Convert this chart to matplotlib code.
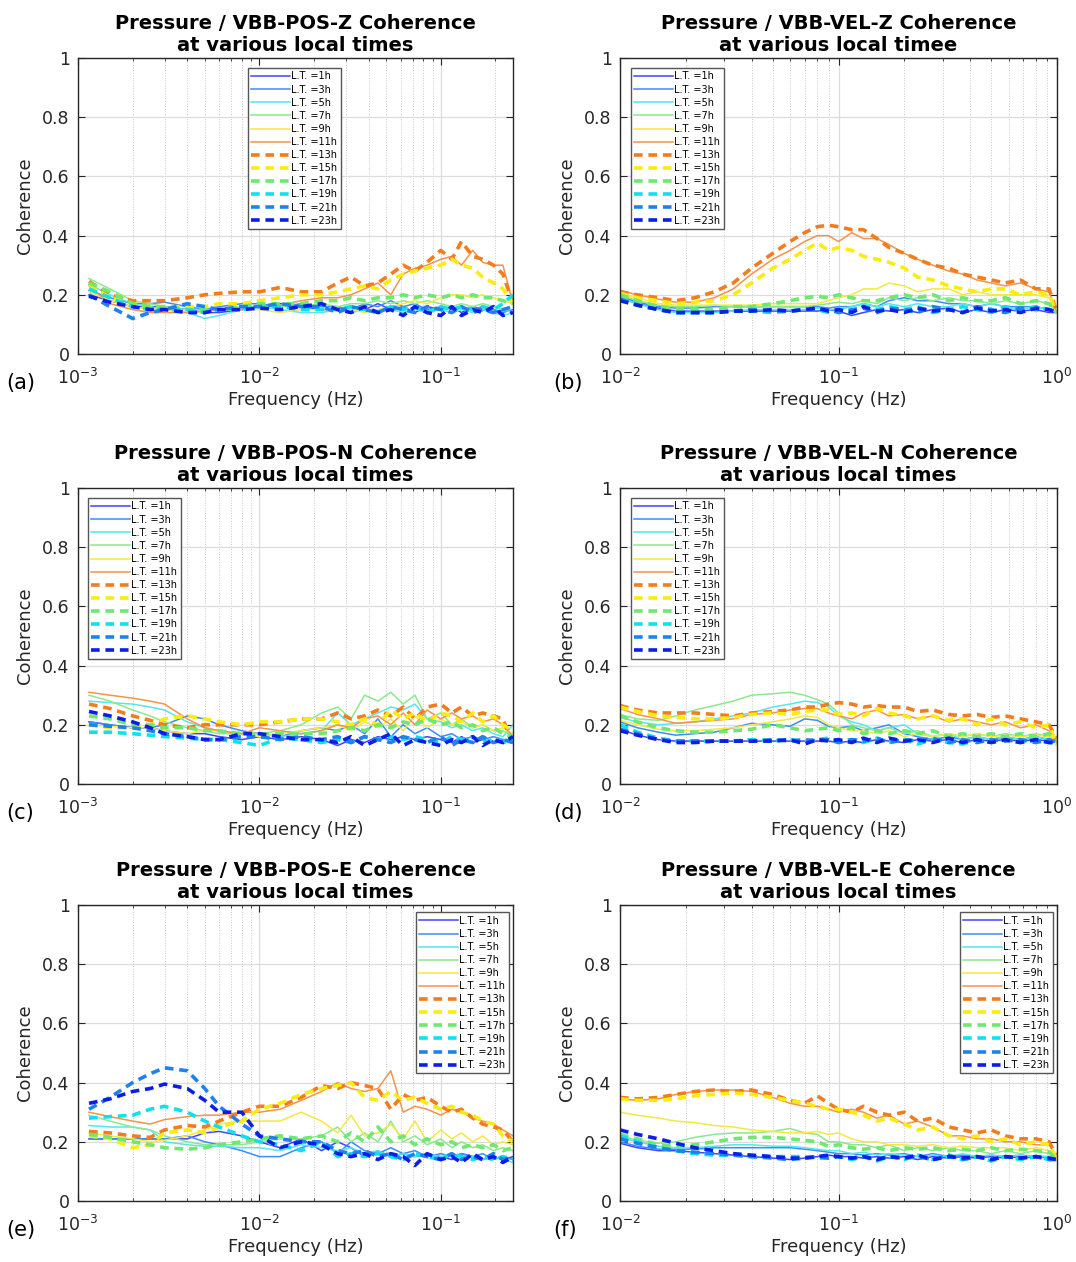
import matplotlib
matplotlib.use("Agg")
import matplotlib.pyplot as plt
from matplotlib.ticker import LogLocator, NullFormatter, FixedLocator

plt.rcParams['font.family'] = ['DejaVu Sans']

# ---- data ------------------------------------------------------------------
LABELS = ["L.T. =1h", "L.T. =3h", "L.T. =5h", "L.T. =7h", "L.T. =9h", "L.T. =11h",
          "L.T. =13h", "L.T. =15h", "L.T. =17h", "L.T. =19h", "L.T. =21h", "L.T. =23h"]

F_POS = [0.00115, 0.0015, 0.002, 0.0025, 0.003, 0.004, 0.005, 0.006, 0.008, 0.01,
         0.013, 0.017, 0.022, 0.027, 0.032, 0.038, 0.045, 0.053, 0.062, 0.072,
         0.084, 0.1, 0.115, 0.13, 0.15, 0.17, 0.195, 0.22, 0.25]
F_VEL = [0.01, 0.012, 0.015, 0.018, 0.022, 0.027, 0.033, 0.04, 0.05, 0.06,
         0.07, 0.08, 0.09, 0.1, 0.115, 0.13, 0.15, 0.17, 0.2, 0.23,
         0.27, 0.32, 0.37, 0.43, 0.5, 0.58, 0.68, 0.8, 0.92, 1.0]

# (a) Pressure / VBB-POS-Z
coh_pos_z = [
    [0.2, 0.18, 0.16, 0.16, 0.16, 0.15, 0.14, 0.14, 0.15, 0.16, 0.17, 0.16, 0.15, 0.15, 0.16, 0.15, 0.17, 0.15, 0.16, 0.14, 0.16, 0.15, 0.16, 0.14, 0.16, 0.15, 0.14, 0.15, 0.14],
    [0.215, 0.19, 0.17, 0.17, 0.175, 0.16, 0.15, 0.16, 0.17, 0.17, 0.16, 0.17, 0.16, 0.16, 0.15, 0.17, 0.16, 0.18, 0.16, 0.17, 0.15, 0.16, 0.15, 0.16, 0.15, 0.16, 0.15, 0.14, 0.15],
    [0.235, 0.2, 0.17, 0.16, 0.15, 0.14, 0.12, 0.13, 0.15, 0.16, 0.15, 0.14, 0.14, 0.15, 0.14, 0.15, 0.14, 0.15, 0.14, 0.15, 0.14, 0.15, 0.14, 0.15, 0.14, 0.15, 0.14, 0.13, 0.14],
    [0.255, 0.22, 0.18, 0.17, 0.16, 0.15, 0.15, 0.15, 0.16, 0.16, 0.16, 0.16, 0.17, 0.16, 0.17, 0.17, 0.18, 0.17, 0.18, 0.17, 0.18, 0.17, 0.16, 0.17, 0.16, 0.17, 0.16, 0.15, 0.14],
    [0.21, 0.18, 0.16, 0.15, 0.15, 0.14, 0.14, 0.15, 0.15, 0.15, 0.14, 0.15, 0.15, 0.15, 0.15, 0.14, 0.15, 0.16, 0.17, 0.18, 0.17, 0.19, 0.2, 0.2, 0.19, 0.2, 0.19, 0.18, 0.17],
    [0.23, 0.17, 0.15, 0.14, 0.14, 0.14, 0.145, 0.15, 0.15, 0.16, 0.165, 0.18, 0.19, 0.19, 0.2, 0.22, 0.24, 0.2, 0.27, 0.29, 0.3, 0.32, 0.33, 0.3, 0.35, 0.31, 0.3, 0.3, 0.17],
    [0.245, 0.2, 0.18, 0.18, 0.18, 0.19, 0.2, 0.205, 0.21, 0.21, 0.225, 0.21, 0.21, 0.24, 0.26, 0.23, 0.24, 0.27, 0.3, 0.28, 0.31, 0.35, 0.32, 0.38, 0.33, 0.32, 0.3, 0.27, 0.17],
    [0.235, 0.19, 0.17, 0.16, 0.16, 0.16, 0.16, 0.17, 0.17, 0.18, 0.19, 0.2, 0.2, 0.21, 0.22, 0.23, 0.22, 0.25, 0.27, 0.28, 0.29, 0.3, 0.32, 0.3, 0.29, 0.26, 0.24, 0.22, 0.17],
    [0.24, 0.21, 0.17, 0.16, 0.16, 0.15, 0.15, 0.15, 0.16, 0.17, 0.17, 0.17, 0.18, 0.18, 0.19, 0.18, 0.19, 0.19, 0.2, 0.19, 0.2, 0.19, 0.2, 0.19, 0.2, 0.19, 0.19, 0.18, 0.17],
    [0.22, 0.19, 0.16, 0.15, 0.15, 0.15, 0.14, 0.15, 0.15, 0.16, 0.16, 0.15, 0.15, 0.15, 0.16, 0.15, 0.14, 0.16, 0.15, 0.16, 0.14, 0.16, 0.15, 0.16, 0.15, 0.16, 0.15, 0.17, 0.2],
    [0.2, 0.16, 0.12, 0.14, 0.15, 0.17, 0.16, 0.15, 0.16, 0.16, 0.17, 0.16, 0.16, 0.14, 0.16, 0.15, 0.14, 0.16, 0.15, 0.14, 0.16, 0.15, 0.14, 0.16, 0.14, 0.15, 0.14, 0.15, 0.16],
    [0.195, 0.175, 0.16, 0.15, 0.15, 0.14, 0.14, 0.15, 0.15, 0.155, 0.15, 0.16, 0.17, 0.15, 0.14, 0.16, 0.14, 0.15, 0.13, 0.16, 0.14, 0.13, 0.16, 0.13, 0.15, 0.14, 0.16, 0.13, 0.14],
]

# (b) Pressure / VBB-VEL-Z
coh_vel_z = [
    [0.19, 0.17, 0.155, 0.145, 0.145, 0.145, 0.145, 0.145, 0.145, 0.145, 0.145, 0.145, 0.15, 0.145, 0.13, 0.14, 0.15, 0.145, 0.15, 0.14, 0.15, 0.155, 0.14, 0.15, 0.14, 0.15, 0.145, 0.15, 0.14, 0.14],
    [0.195, 0.175, 0.16, 0.155, 0.155, 0.16, 0.16, 0.16, 0.16, 0.16, 0.16, 0.16, 0.155, 0.16, 0.16, 0.17, 0.16, 0.18, 0.19, 0.18, 0.18, 0.17, 0.17, 0.16, 0.17, 0.16, 0.16, 0.16, 0.15, 0.14],
    [0.19, 0.17, 0.15, 0.14, 0.14, 0.14, 0.145, 0.15, 0.15, 0.15, 0.15, 0.155, 0.15, 0.15, 0.16, 0.17, 0.16, 0.17, 0.16, 0.17, 0.16, 0.16, 0.17, 0.16, 0.17, 0.16, 0.15, 0.16, 0.15, 0.14],
    [0.2, 0.18, 0.165, 0.16, 0.16, 0.165, 0.16, 0.16, 0.16, 0.16, 0.16, 0.165, 0.17, 0.175, 0.17, 0.18, 0.17, 0.19, 0.18, 0.19, 0.18, 0.19, 0.18, 0.18, 0.17, 0.18, 0.17, 0.18, 0.17, 0.14],
    [0.2, 0.19, 0.17, 0.165, 0.165, 0.165, 0.165, 0.165, 0.17, 0.17, 0.17, 0.17, 0.18, 0.19, 0.2, 0.22, 0.22, 0.24, 0.23, 0.21, 0.22, 0.22, 0.2, 0.21, 0.2, 0.2, 0.2, 0.2, 0.19, 0.14],
    [0.215, 0.2, 0.185, 0.175, 0.175, 0.19, 0.22, 0.27, 0.32, 0.35, 0.38, 0.4, 0.4, 0.38, 0.41, 0.39, 0.39, 0.37, 0.34, 0.32, 0.3, 0.28, 0.27, 0.25, 0.24, 0.23, 0.24, 0.22, 0.21, 0.14],
    [0.21, 0.2, 0.19, 0.18, 0.19, 0.21, 0.24, 0.29, 0.34, 0.38, 0.41, 0.43, 0.435, 0.43, 0.42, 0.42, 0.39, 0.36, 0.34, 0.32, 0.3, 0.29, 0.27, 0.26, 0.25, 0.24, 0.25, 0.22, 0.22, 0.14],
    [0.205, 0.19, 0.18, 0.17, 0.175, 0.18, 0.2, 0.24, 0.29, 0.32, 0.35, 0.375, 0.35, 0.36, 0.35, 0.33, 0.32, 0.31, 0.29, 0.26, 0.25, 0.23, 0.22, 0.21, 0.22, 0.22, 0.2, 0.21, 0.2, 0.14],
    [0.2, 0.18, 0.16, 0.15, 0.15, 0.15, 0.16, 0.16, 0.17, 0.18, 0.19, 0.195, 0.19, 0.2, 0.19, 0.18, 0.18, 0.19, 0.2, 0.19, 0.2, 0.18, 0.19, 0.18, 0.18, 0.19, 0.17, 0.18, 0.17, 0.14],
    [0.185, 0.165, 0.15, 0.14, 0.14, 0.14, 0.145, 0.145, 0.14, 0.145, 0.15, 0.15, 0.14, 0.15, 0.14, 0.16, 0.15, 0.16, 0.15, 0.16, 0.14, 0.15, 0.16, 0.15, 0.14, 0.16, 0.15, 0.16, 0.15, 0.14],
    [0.185, 0.165, 0.15, 0.14, 0.14, 0.14, 0.145, 0.15, 0.145, 0.145, 0.15, 0.15, 0.15, 0.14, 0.15, 0.155, 0.14, 0.155, 0.15, 0.14, 0.16, 0.15, 0.14, 0.16, 0.15, 0.14, 0.155, 0.15, 0.15, 0.14],
    [0.18, 0.165, 0.15, 0.14, 0.14, 0.14, 0.145, 0.145, 0.15, 0.145, 0.15, 0.155, 0.145, 0.15, 0.14, 0.16, 0.145, 0.15, 0.14, 0.155, 0.145, 0.15, 0.14, 0.155, 0.145, 0.15, 0.14, 0.155, 0.15, 0.14],
]

# (c) Pressure / VBB-POS-N
coh_pos_n = [
    [0.21, 0.2, 0.19, 0.19, 0.18, 0.17, 0.17, 0.16, 0.15, 0.16, 0.15, 0.16, 0.15, 0.13, 0.15, 0.14, 0.16, 0.15, 0.16, 0.15, 0.16, 0.15, 0.14, 0.16, 0.14, 0.15, 0.14, 0.15, 0.14],
    [0.21, 0.2, 0.19, 0.19, 0.2, 0.23, 0.22, 0.2, 0.18, 0.17, 0.16, 0.18, 0.19, 0.18, 0.2, 0.17, 0.22, 0.16, 0.2, 0.17, 0.19, 0.16, 0.17, 0.15, 0.16, 0.15, 0.16, 0.15, 0.15],
    [0.28, 0.275, 0.27, 0.26, 0.25, 0.21, 0.19, 0.18, 0.17, 0.17, 0.16, 0.17, 0.18, 0.24, 0.2, 0.22, 0.24, 0.26, 0.25, 0.27, 0.22, 0.21, 0.19, 0.2, 0.18, 0.19, 0.17, 0.16, 0.2],
    [0.3, 0.28, 0.25, 0.23, 0.21, 0.19, 0.18, 0.17, 0.17, 0.17, 0.18, 0.2, 0.24, 0.26, 0.22, 0.3, 0.28, 0.31, 0.27, 0.3, 0.22, 0.24, 0.2, 0.22, 0.19, 0.2, 0.18, 0.18, 0.16],
    [0.2, 0.195, 0.19, 0.19, 0.18, 0.17, 0.18, 0.18, 0.17, 0.16, 0.17, 0.18, 0.19, 0.2, 0.18, 0.21, 0.19, 0.22, 0.18, 0.23, 0.19, 0.22, 0.2, 0.21, 0.19, 0.2, 0.18, 0.19, 0.17],
    [0.31, 0.3, 0.29, 0.28, 0.27, 0.22, 0.19, 0.18, 0.17, 0.19, 0.18, 0.17, 0.18, 0.2, 0.19, 0.22, 0.23, 0.2, 0.24, 0.2, 0.25, 0.22, 0.24, 0.22, 0.23, 0.21, 0.22, 0.2, 0.16],
    [0.27, 0.255, 0.23, 0.215, 0.2, 0.19, 0.2, 0.2, 0.2, 0.2, 0.21, 0.22, 0.22, 0.24, 0.22, 0.23, 0.25, 0.23, 0.26, 0.22, 0.26, 0.27, 0.24, 0.26, 0.23, 0.24, 0.23, 0.22, 0.13],
    [0.2, 0.19, 0.19, 0.2, 0.22, 0.23, 0.22, 0.21, 0.2, 0.21, 0.21, 0.22, 0.22, 0.21, 0.2, 0.22, 0.2, 0.25, 0.22, 0.24, 0.21, 0.24, 0.23, 0.21, 0.24, 0.21, 0.23, 0.2, 0.18],
    [0.23, 0.22, 0.2, 0.2, 0.19, 0.19, 0.18, 0.18, 0.17, 0.17, 0.17, 0.17, 0.17, 0.18, 0.19, 0.18, 0.2, 0.19, 0.21, 0.2, 0.22, 0.2, 0.21, 0.19, 0.2, 0.18, 0.19, 0.17, 0.16],
    [0.175, 0.175, 0.17, 0.165, 0.16, 0.155, 0.15, 0.15, 0.14, 0.13, 0.155, 0.15, 0.14, 0.15, 0.14, 0.16, 0.15, 0.16, 0.15, 0.16, 0.15, 0.14, 0.16, 0.15, 0.16, 0.14, 0.15, 0.14, 0.15],
    [0.2, 0.195, 0.19, 0.18, 0.17, 0.16, 0.15, 0.15, 0.16, 0.16, 0.15, 0.16, 0.15, 0.16, 0.14, 0.16, 0.15, 0.14, 0.16, 0.15, 0.14, 0.16, 0.13, 0.15, 0.14, 0.16, 0.14, 0.15, 0.14],
    [0.245, 0.23, 0.21, 0.19, 0.17, 0.16, 0.15, 0.15, 0.17, 0.17, 0.16, 0.15, 0.15, 0.14, 0.16, 0.13, 0.15, 0.17, 0.13, 0.15, 0.14, 0.13, 0.15, 0.14, 0.16, 0.13, 0.15, 0.14, 0.16],
]

# (d) Pressure / VBB-VEL-N
coh_vel_n = [
    [0.185, 0.165, 0.15, 0.145, 0.145, 0.145, 0.145, 0.145, 0.145, 0.145, 0.145, 0.145, 0.145, 0.14, 0.145, 0.14, 0.15, 0.145, 0.14, 0.15, 0.145, 0.15, 0.14, 0.15, 0.145, 0.15, 0.145, 0.15, 0.145, 0.14],
    [0.21, 0.19, 0.175, 0.165, 0.17, 0.175, 0.19, 0.205, 0.2, 0.195, 0.22, 0.215, 0.195, 0.19, 0.195, 0.18, 0.19, 0.2, 0.17, 0.16, 0.15, 0.16, 0.15, 0.16, 0.15, 0.16, 0.15, 0.16, 0.15, 0.14],
    [0.225, 0.21, 0.2, 0.205, 0.21, 0.22, 0.23, 0.24, 0.26, 0.27, 0.28, 0.275, 0.26, 0.23, 0.21, 0.2, 0.18, 0.19, 0.2, 0.17, 0.16, 0.17, 0.15, 0.16, 0.15, 0.16, 0.15, 0.16, 0.15, 0.14],
    [0.235, 0.22, 0.215, 0.23, 0.25, 0.265, 0.28, 0.3, 0.305, 0.31, 0.3, 0.285, 0.27, 0.24, 0.2, 0.19, 0.18, 0.19, 0.17, 0.18, 0.16, 0.17, 0.16, 0.17, 0.16, 0.17, 0.16, 0.17, 0.16, 0.15],
    [0.215, 0.2, 0.185, 0.18, 0.18, 0.185, 0.19, 0.2, 0.21, 0.22, 0.23, 0.225, 0.2, 0.19, 0.18, 0.18, 0.17, 0.18, 0.16, 0.17, 0.16, 0.17, 0.16, 0.17, 0.16, 0.165, 0.16, 0.165, 0.16, 0.14],
    [0.255, 0.235, 0.22, 0.205, 0.21, 0.215, 0.22, 0.235, 0.24, 0.25, 0.255, 0.255, 0.24, 0.23, 0.22, 0.24, 0.25, 0.23, 0.235, 0.22, 0.23, 0.21, 0.22, 0.21, 0.2, 0.21, 0.19, 0.2, 0.18, 0.14],
    [0.265, 0.25, 0.24, 0.24, 0.24, 0.235, 0.23, 0.24, 0.245, 0.25, 0.26, 0.26, 0.27, 0.275, 0.27, 0.26, 0.265, 0.26, 0.26, 0.245, 0.25, 0.235, 0.23, 0.235, 0.225, 0.23, 0.22, 0.21, 0.2, 0.15],
    [0.26, 0.245, 0.23, 0.225, 0.22, 0.22, 0.225, 0.235, 0.24, 0.235, 0.245, 0.25, 0.25, 0.235, 0.24, 0.23, 0.255, 0.24, 0.23, 0.22, 0.23, 0.215, 0.22, 0.2, 0.22, 0.2, 0.21, 0.19, 0.2, 0.13],
    [0.23, 0.21, 0.19, 0.18, 0.175, 0.175, 0.18, 0.185, 0.2, 0.19, 0.18, 0.185, 0.19, 0.18, 0.19, 0.17, 0.18, 0.17, 0.18, 0.17, 0.18, 0.16, 0.17, 0.16, 0.17, 0.16, 0.17, 0.16, 0.17, 0.15],
    [0.2, 0.175, 0.155, 0.145, 0.145, 0.145, 0.145, 0.15, 0.145, 0.15, 0.145, 0.15, 0.155, 0.145, 0.15, 0.14, 0.155, 0.14, 0.15, 0.135, 0.15, 0.14, 0.135, 0.15, 0.14, 0.15, 0.14, 0.15, 0.14, 0.14],
    [0.185, 0.17, 0.15, 0.145, 0.145, 0.145, 0.145, 0.145, 0.15, 0.145, 0.15, 0.145, 0.15, 0.14, 0.15, 0.145, 0.155, 0.14, 0.15, 0.145, 0.155, 0.14, 0.15, 0.14, 0.15, 0.145, 0.15, 0.14, 0.15, 0.14],
    [0.18, 0.165, 0.15, 0.14, 0.14, 0.145, 0.145, 0.145, 0.145, 0.15, 0.135, 0.15, 0.145, 0.15, 0.14, 0.155, 0.14, 0.155, 0.145, 0.15, 0.14, 0.155, 0.14, 0.15, 0.14, 0.15, 0.14, 0.15, 0.14, 0.14],
]

# (e) Pressure / VBB-POS-E
coh_pos_e = [
    [0.21, 0.21, 0.21, 0.21, 0.21, 0.21, 0.23, 0.235, 0.22, 0.2, 0.18, 0.21, 0.17, 0.2, 0.18, 0.15, 0.17, 0.15, 0.16, 0.15, 0.16, 0.15, 0.14, 0.16, 0.15, 0.14, 0.15, 0.14, 0.15],
    [0.21, 0.21, 0.21, 0.21, 0.21, 0.22, 0.2, 0.19, 0.17, 0.15, 0.15, 0.18, 0.2, 0.16, 0.2, 0.17, 0.16, 0.18, 0.16, 0.17, 0.15, 0.16, 0.15, 0.16, 0.15, 0.16, 0.14, 0.15, 0.14],
    [0.255, 0.25, 0.25, 0.24, 0.2, 0.19, 0.185, 0.185, 0.18, 0.18, 0.17, 0.19, 0.18, 0.17, 0.18, 0.16, 0.17, 0.15, 0.16, 0.15, 0.16, 0.15, 0.16, 0.14, 0.15, 0.14, 0.15, 0.14, 0.13],
    [0.29, 0.27, 0.25, 0.24, 0.22, 0.2, 0.19, 0.19, 0.19, 0.2, 0.21, 0.21, 0.22, 0.25, 0.2, 0.23, 0.2, 0.27, 0.2, 0.22, 0.19, 0.21, 0.18, 0.2, 0.18, 0.19, 0.17, 0.18, 0.17],
    [0.23, 0.22, 0.21, 0.2, 0.205, 0.22, 0.24, 0.26, 0.27, 0.27, 0.27, 0.3, 0.27, 0.23, 0.29, 0.22, 0.23, 0.26, 0.21, 0.27, 0.2, 0.24, 0.21, 0.23, 0.2, 0.22, 0.19, 0.2, 0.19],
    [0.3, 0.285, 0.27, 0.26, 0.275, 0.285, 0.29, 0.29, 0.3, 0.3, 0.31, 0.34, 0.37, 0.4, 0.38, 0.37, 0.38, 0.44, 0.3, 0.32, 0.31, 0.29, 0.31, 0.3, 0.28, 0.27, 0.26, 0.24, 0.22],
    [0.235, 0.23, 0.22, 0.215, 0.24, 0.255, 0.25, 0.27, 0.3, 0.32, 0.32, 0.35, 0.39, 0.38, 0.4, 0.39, 0.38, 0.31, 0.36, 0.34, 0.35, 0.32, 0.3, 0.31, 0.28, 0.26, 0.25, 0.24, 0.2],
    [0.22, 0.21, 0.18, 0.19, 0.23, 0.24, 0.23, 0.25, 0.27, 0.31, 0.33, 0.36, 0.38, 0.39, 0.4, 0.35, 0.34, 0.37, 0.34, 0.35, 0.33, 0.31, 0.32, 0.3, 0.29, 0.27, 0.26, 0.22, 0.2],
    [0.225, 0.215, 0.2, 0.19, 0.18, 0.175, 0.18, 0.19, 0.2, 0.21, 0.22, 0.21, 0.22, 0.2, 0.23, 0.2, 0.25, 0.2, 0.22, 0.19, 0.21, 0.19, 0.2, 0.18, 0.19, 0.18, 0.19, 0.17, 0.18],
    [0.28, 0.285, 0.29, 0.31, 0.32, 0.3, 0.27, 0.25, 0.22, 0.2, 0.19, 0.17, 0.2, 0.15, 0.16, 0.15, 0.16, 0.15, 0.14, 0.16, 0.15, 0.14, 0.16, 0.15, 0.14, 0.15, 0.14, 0.15, 0.14],
    [0.31, 0.35, 0.4, 0.43, 0.45, 0.44, 0.38, 0.32, 0.26, 0.22, 0.21, 0.2, 0.2, 0.17, 0.16, 0.17, 0.15, 0.16, 0.14, 0.16, 0.15, 0.14, 0.16, 0.14, 0.15, 0.14, 0.16, 0.14, 0.15],
    [0.33, 0.345, 0.37, 0.38, 0.395, 0.38, 0.34, 0.3, 0.3, 0.22, 0.18, 0.2, 0.19, 0.16, 0.15, 0.16, 0.14, 0.16, 0.15, 0.12, 0.16, 0.14, 0.15, 0.13, 0.16, 0.14, 0.15, 0.13, 0.15],
]

# (f) Pressure / VBB-VEL-E
coh_vel_e = [
    [0.195, 0.18, 0.17, 0.17, 0.165, 0.16, 0.155, 0.15, 0.145, 0.14, 0.145, 0.15, 0.155, 0.15, 0.15, 0.145, 0.15, 0.145, 0.15, 0.14, 0.15, 0.145, 0.15, 0.145, 0.15, 0.145, 0.15, 0.145, 0.15, 0.14],
    [0.2, 0.185, 0.175, 0.175, 0.175, 0.18, 0.18, 0.18, 0.18, 0.18, 0.175, 0.17, 0.165, 0.16, 0.16, 0.155, 0.16, 0.155, 0.16, 0.15, 0.16, 0.15, 0.155, 0.15, 0.155, 0.15, 0.155, 0.15, 0.15, 0.14],
    [0.215, 0.2, 0.185, 0.18, 0.18, 0.185, 0.19, 0.19, 0.185, 0.185, 0.18, 0.175, 0.17, 0.17, 0.16, 0.165, 0.155, 0.16, 0.155, 0.15, 0.155, 0.15, 0.16, 0.15, 0.155, 0.15, 0.155, 0.15, 0.15, 0.14],
    [0.22, 0.205, 0.195, 0.2, 0.215, 0.225, 0.23, 0.23, 0.235, 0.245, 0.23, 0.225, 0.2, 0.2, 0.19, 0.19, 0.18, 0.19, 0.17, 0.18, 0.17, 0.18, 0.17, 0.17, 0.16, 0.17, 0.16, 0.17, 0.16, 0.14],
    [0.3, 0.29, 0.28, 0.27, 0.265, 0.255, 0.25, 0.24, 0.235, 0.23, 0.23, 0.235, 0.225, 0.23, 0.21, 0.2, 0.2, 0.19, 0.19, 0.185, 0.19, 0.18, 0.185, 0.18, 0.18, 0.18, 0.17, 0.18, 0.17, 0.14],
    [0.345, 0.34, 0.345, 0.36, 0.37, 0.375, 0.375, 0.37, 0.35, 0.33, 0.32, 0.32, 0.31, 0.3, 0.31, 0.3, 0.28, 0.29, 0.26, 0.27, 0.25, 0.22, 0.22, 0.21, 0.21, 0.2, 0.2, 0.19, 0.19, 0.15],
    [0.35, 0.345, 0.35, 0.36, 0.37, 0.375, 0.37, 0.375, 0.36, 0.34, 0.33, 0.355, 0.33, 0.31, 0.3, 0.32, 0.3, 0.29, 0.3, 0.27, 0.28, 0.25, 0.24, 0.23, 0.24, 0.22, 0.21, 0.21, 0.2, 0.15],
    [0.345, 0.34, 0.34, 0.345, 0.355, 0.36, 0.365, 0.36, 0.35, 0.34, 0.33, 0.32, 0.31, 0.31, 0.3, 0.29, 0.27, 0.28, 0.26, 0.24, 0.25, 0.22, 0.21, 0.22, 0.2, 0.21, 0.19, 0.2, 0.19, 0.14],
    [0.225, 0.21, 0.19, 0.185, 0.19, 0.2, 0.21, 0.215, 0.215, 0.21, 0.205, 0.2, 0.185, 0.19, 0.18, 0.175, 0.18, 0.17, 0.18, 0.175, 0.18, 0.17, 0.175, 0.17, 0.18, 0.17, 0.175, 0.17, 0.165, 0.14],
    [0.22, 0.2, 0.18, 0.17, 0.16, 0.155, 0.155, 0.15, 0.15, 0.15, 0.15, 0.145, 0.145, 0.15, 0.14, 0.15, 0.135, 0.15, 0.14, 0.155, 0.14, 0.15, 0.14, 0.15, 0.135, 0.15, 0.14, 0.15, 0.14, 0.14],
    [0.21, 0.195, 0.18, 0.17, 0.165, 0.16, 0.155, 0.15, 0.145, 0.14, 0.145, 0.15, 0.145, 0.15, 0.145, 0.15, 0.14, 0.15, 0.145, 0.15, 0.14, 0.155, 0.14, 0.15, 0.14, 0.15, 0.145, 0.15, 0.14, 0.14],
    [0.24, 0.225, 0.21, 0.195, 0.18, 0.17, 0.16, 0.155, 0.15, 0.145, 0.145, 0.15, 0.155, 0.15, 0.145, 0.15, 0.14, 0.15, 0.145, 0.155, 0.14, 0.15, 0.145, 0.15, 0.14, 0.15, 0.145, 0.15, 0.145, 0.14],
]

# ---- styling ------------------------------------------------------------------
SOLID_COLORS = ['#4444ff', '#3a8cff', '#55e6ee', '#8de88d', '#f2ea3c', '#f4934a']
DASH_COLORS = ['#f47c1c', '#fbec10', '#6ee86e', '#10e0ee', '#1e82ee', '#0a1ee8']
COLORS = SOLID_COLORS + DASH_COLORS
AX_COLOR = '#262626'

fig = plt.figure(figsize=(10.76, 12.62), dpi=100)

panels = [
    ("a", "Pressure / VBB-POS-Z Coherence\nat various local times", F_POS, coh_pos_z, (0.391, 0.966)),
    ("b", "Pressure / VBB-VEL-Z Coherence\nat various local timee", F_VEL, coh_vel_z, (0.025, 0.966)),
    ("c", "Pressure / VBB-POS-N Coherence\nat various local times", F_POS, coh_pos_n, (0.023, 0.966)),
    ("d", "Pressure / VBB-VEL-N Coherence\nat various local times", F_VEL, coh_vel_n, (0.025, 0.966)),
    ("e", "Pressure / VBB-POS-E Coherence\nat various local times", F_POS, coh_pos_e, None),
    ("f", "Pressure / VBB-VEL-E Coherence\nat various local times", F_VEL, coh_vel_e, None),
]

lefts = [78, 620]
rights = [513, 1057]
tag_x = [6, 553]
tops = [58, 488, 905]
H = 296
W_PX, H_PX = 1076, 1262

for i, (tag, title, freq, curves, leg_pos) in enumerate(panels):
    row, col = divmod(i, 2)
    l, r, t = lefts[col], rights[col], tops[row]
    ax = fig.add_axes([l / W_PX, 1 - (t + H) / H_PX, (r - l) / W_PX, H / H_PX])

    for k, vals in enumerate(curves):
        if k < 6:
            ax.plot(freq, vals, color=COLORS[k], lw=1.1, label=LABELS[k])
        else:
            ax.plot(freq, vals, color=COLORS[k], lw=2.6, ls=(0, (2.4, 1.6)), label=LABELS[k])

    ax.set_xscale('log')
    if col == 0:
        ax.set_xlim(1e-3, 0.25)
        ax.xaxis.set_major_locator(FixedLocator([1e-3, 1e-2, 1e-1]))
        ax.set_xticklabels([r'$10^{-3}$', r'$10^{-2}$', r'$10^{-1}$'])
    else:
        ax.set_xlim(1e-2, 1.0)
        ax.xaxis.set_major_locator(FixedLocator([1e-2, 1e-1, 1.0]))
        ax.set_xticklabels([r'$10^{-2}$', r'$10^{-1}$', r'$10^{0}$'])
    ax.xaxis.set_minor_locator(LogLocator(base=10, subs=range(2, 10), numticks=20))
    ax.xaxis.set_minor_formatter(NullFormatter())
    ax.set_ylim(0, 1)
    ax.set_yticks([0, 0.2, 0.4, 0.6, 0.8, 1])
    ax.set_yticklabels(['0', '0.2', '0.4', '0.6', '0.8', '1'])

    ax.grid(True, which='major', color='#dcdcdc', lw=0.9)
    ax.grid(True, which='minor', axis='x', color='#c8c8c8', lw=0.7, ls=':')
    ax.set_axisbelow(True)

    ax.tick_params(which='both', direction='in', top=True, right=True, colors=AX_COLOR,
                   labelcolor=AX_COLOR)
    ax.tick_params(which='major', length=5, labelsize=12.5)
    ax.tick_params(axis='y', which='major', pad=6)
    ax.tick_params(axis='x', which='major', pad=10)
    ax.tick_params(which='minor', length=2.5)
    for s in ax.spines.values():
        s.set_color(AX_COLOR)
        s.set_linewidth(1.0)

    ax.set_xlabel("Frequency (Hz)", fontsize=13, color=AX_COLOR, labelpad=2)
    ax.set_ylabel("Coherence", fontsize=13, color=AX_COLOR, labelpad=6)
    ax.set_title(title, fontsize=14, fontweight='bold', pad=5, linespacing=1.2)

    if leg_pos is not None:
        leg = ax.legend(loc='upper left', bbox_to_anchor=leg_pos, borderaxespad=0,
                        fontsize=7, handlelength=4.0, labelspacing=0.32, handletextpad=0.1,
                        borderpad=0.35, fancybox=False, framealpha=1, edgecolor='#555555')
    else:
        leg = ax.legend(loc='upper right', bbox_to_anchor=(0.99, 0.975), borderaxespad=0,
                        fontsize=7, handlelength=4.0, labelspacing=0.32, handletextpad=0.1,
                        borderpad=0.35, fancybox=False, framealpha=1, edgecolor='#555555')
    leg.get_frame().set_linewidth(1.0)

    fig.text(tag_x[col] / W_PX, 1 - (t + H + 29) / H_PX, "(%s)" % tag, fontsize=15,
             va='center', ha='left', color='black')

fig.savefig("out.png", dpi=100)
